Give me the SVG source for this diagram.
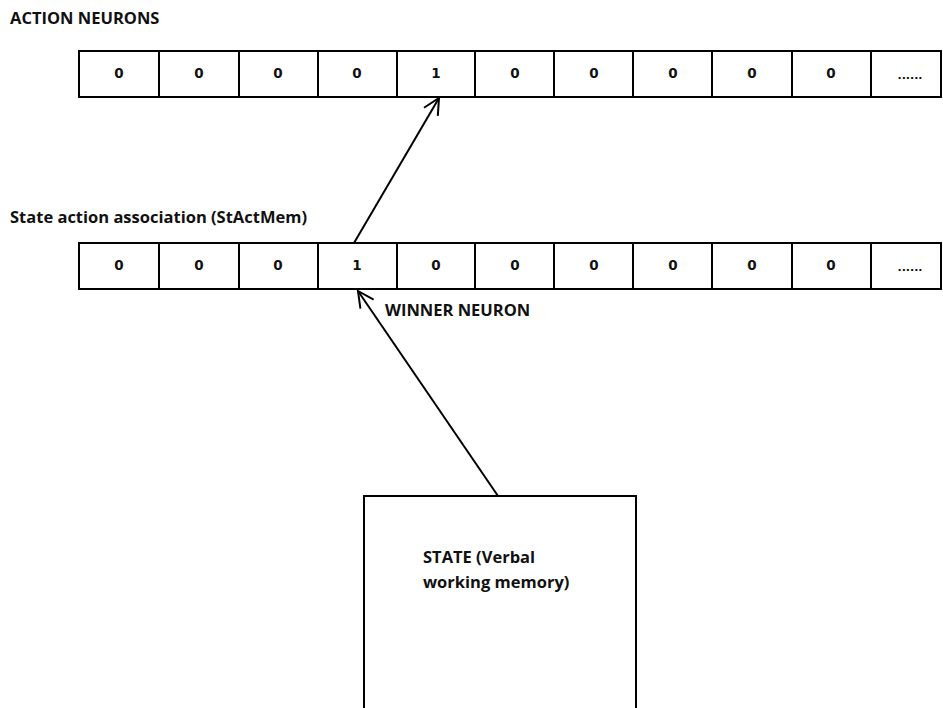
<svg xmlns="http://www.w3.org/2000/svg" width="943" height="708" viewBox="0 0 943 708">
<defs>
<style>
.lbl{font-family:"Open Sans","Liberation Sans",sans-serif;font-weight:bold;font-size:16.5px;fill:#111}
.d{font-family:"DejaVu Sans","Liberation Sans",sans-serif;font-weight:bold;font-size:13.5px;fill:#111;text-anchor:middle}
.dots{font-family:"DejaVu Sans","Liberation Sans",sans-serif;font-weight:bold;font-size:11px;fill:#111;text-anchor:middle}
.cell{fill:#fff;stroke:#000;stroke-width:2}
.c{stroke:#000;stroke-width:2;fill:none}
</style>
<marker id="ah" viewBox="0 0 20 20" refX="18" refY="10" markerWidth="20" markerHeight="20" markerUnits="userSpaceOnUse" orient="auto">
<path d="M2,2 L18,10 L2,18" fill="none" stroke="#000" stroke-width="2"/>
</marker>
</defs>
<rect width="943" height="708" fill="#fff"/>
<text class="lbl" x="10" y="24">ACTION NEURONS</text>
<g id="action-neurons">
<rect class="cell" x="79" y="51" width="862" height="46"/>
<path class="c" d="M159,51V97M239,51V97M318,51V97M397,51V97M475,51V97M554,51V97M633,51V97M712,51V97M792,51V97M871,51V97"/>
<text class="d" x="119" y="78">0</text>
<text class="d" x="199" y="78">0</text>
<text class="d" x="278" y="78">0</text>
<text class="d" x="357" y="78">0</text>
<text class="d" x="436" y="78">1</text>
<text class="d" x="515" y="78">0</text>
<text class="d" x="594" y="78">0</text>
<text class="d" x="673" y="78">0</text>
<text class="d" x="752" y="78">0</text>
<text class="d" x="831" y="78">0</text>
<text class="dots" x="910" y="79">......</text>
</g>
<text class="lbl" x="10" y="223">State action association (StActMem)</text>
<g id="stactmem">
<rect class="cell" x="79" y="243" width="862" height="46"/>
<path class="c" d="M159,243V289M239,243V289M318,243V289M397,243V289M475,243V289M554,243V289M633,243V289M712,243V289M792,243V289M871,243V289"/>
<text class="d" x="119" y="270">0</text>
<text class="d" x="199" y="270">0</text>
<text class="d" x="278" y="270">0</text>
<text class="d" x="357" y="270">1</text>
<text class="d" x="436" y="270">0</text>
<text class="d" x="515" y="270">0</text>
<text class="d" x="594" y="270">0</text>
<text class="d" x="673" y="270">0</text>
<text class="d" x="752" y="270">0</text>
<text class="d" x="831" y="270">0</text>
<text class="dots" x="910" y="271">......</text>
</g>
<text class="lbl" x="385" y="316">WINNER NEURON</text>
<g id="state">
<rect class="cell" x="364" y="496" width="272" height="230"/>
<text class="lbl" x="423" y="563">STATE (Verbal</text>
<text class="lbl" x="423" y="588">working memory)</text>
</g>
<g id="connectors">
<line class="c" x1="354" y1="243" x2="439" y2="98" marker-end="url(#ah)"/>
<line class="c" x1="498" y1="496" x2="358" y2="291" marker-end="url(#ah)"/>
</g>
</svg>
